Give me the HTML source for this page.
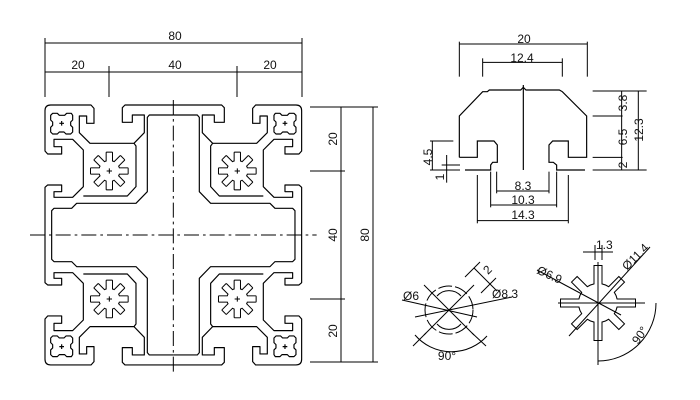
<!DOCTYPE html>
<html><head><meta charset="utf-8"><style>
html,body{margin:0;padding:0;background:#fff;}
svg{display:block;}
text{font-family:"Liberation Sans",sans-serif;font-size:12px;fill:#111;}
</style></head><body>
<svg width="700" height="400" viewBox="0 0 700 400" xmlns="http://www.w3.org/2000/svg">
<defs>
<g id="starShapes">
<circle cx="0" cy="0" r="30"/>
<rect x="-55" y="-8" width="110" height="16"/>
<rect x="-55" y="-8" width="110" height="16" transform="rotate(45)"/>
<rect x="-55" y="-8" width="110" height="16" transform="rotate(90)"/>
<rect x="-55" y="-8" width="110" height="16" transform="rotate(135)"/>
</g>
<g id="star2Shapes">
<circle cx="0" cy="0" r="19"/>
<rect x="-37" y="-3.5" width="74" height="7"/>
<rect x="-33" y="-3.5" width="66" height="7" transform="rotate(45)"/>
<rect x="-37" y="-3.5" width="74" height="7" transform="rotate(90)"/>
<rect x="-33" y="-3.5" width="66" height="7" transform="rotate(135)"/>
</g>
<g id="star">
<use href="#starShapes" stroke="#000" stroke-width="6" fill="#fff"/>
<use href="#starShapes" stroke="none" fill="#fff"/>
<path d="M-8,0H8M0,-8V8" stroke="#000" stroke-width="3" fill="none"/>
</g>
<g id="quad" fill="none" stroke="#000" stroke-width="3.5" stroke-linejoin="round">
<path d="M430,45 H285 L277,53 V97 H307 V75 H343 V128 L312,160 H180 L148,128 V78 H170 V100 H192 V55 L183,45 H62 Q45,45 45,62 V183 L53,192 H95 V170 H72 V148 H128 L160,180 V290 L128,322 H72 V305 H95 V285 H53 L45,292 V435"/>
<path d="M312,160 L318,168 V290 L292,318 H160"/>
<path d="M430,75 H358 L352,82 V305 L318,340 H140 L125,355 H72 L65,362 V435"/>
<path d="M68,70 H82 L88,76 H104 L110,70 H124 L128,76 V90 L122,96 V106 L128,112 V126 L122,132 H108 L102,126 H88 L82,132 H68 L62,126 V112 L68,106 V96 L62,90 V76 Z"/>
<path d="M88,100 H102 M95,93 V107"/>
<use href="#star" transform="translate(238,243)"/>
</g>
</defs>

<!-- main profile -->
<g transform="translate(30,90) scale(0.3333)">
<use href="#quad"/>
<use href="#quad" transform="translate(860,0) scale(-1,1)"/>
<use href="#quad" transform="translate(0,870) scale(1,-1)"/>
<use href="#quad" transform="translate(860,870) scale(-1,-1)"/>
<g stroke="#000" stroke-width="3" stroke-dasharray="45,12,8,12">
<line x1="0" y1="435" x2="860" y2="435"/>
<line x1="430" y1="30" x2="430" y2="850"/>
</g>
</g>

<!-- main dims -->
<g stroke="#000" stroke-width="1" fill="none">
<line x1="45" y1="38" x2="45" y2="97"/><line x1="302" y1="38" x2="302" y2="97"/>
<line x1="109" y1="66" x2="109" y2="97"/><line x1="237" y1="66" x2="237" y2="97"/>
<line x1="45" y1="43" x2="302" y2="43"/>
<line x1="45" y1="72" x2="302" y2="72"/>
<line x1="310" y1="107" x2="378" y2="107"/><line x1="310" y1="362" x2="378" y2="362"/>
<line x1="310" y1="171" x2="345" y2="171"/><line x1="310" y1="299" x2="345" y2="299"/>
<line x1="341" y1="107" x2="341" y2="362"/>
<line x1="373" y1="107" x2="373" y2="362"/>
</g>
<text x="175" y="40" text-anchor="middle">80</text>
<text x="78" y="69" text-anchor="middle">20</text>
<text x="175" y="69" text-anchor="middle">40</text>
<text x="270" y="69" text-anchor="middle">20</text>
<text transform="translate(337,139) rotate(-90)" text-anchor="middle">20</text>
<text transform="translate(337,235) rotate(-90)" text-anchor="middle">40</text>
<text transform="translate(337,331) rotate(-90)" text-anchor="middle">20</text>
<text transform="translate(369,235) rotate(-90)" text-anchor="middle">80</text>

<!-- T-slot detail -->
<g transform="translate(400,30) scale(0.3333)" fill="none" stroke="#000" stroke-width="3.5">
<path d="M178,382 V258 L248,185 H262 L268,180 H362 L370,172 L378,180 H478 L487,185 L560,258 V382 H505 V333 H458 L447,345 V397 H460 L470,405 V420 H555"/>
<path d="M178,382 H232 V333 H282 L292,345 V397 H278 L272,405 V420 H195"/>
<line x1="370" y1="165" x2="370" y2="420"/>
<g stroke-width="3">
<line x1="178" y1="35" x2="178" y2="140"/><line x1="562" y1="35" x2="562" y2="140"/>
<line x1="178" y1="42" x2="562" y2="42"/>
<line x1="248" y1="85" x2="248" y2="140"/><line x1="487" y1="85" x2="487" y2="140"/>
<line x1="248" y1="97" x2="487" y2="97"/>
<line x1="578" y1="183" x2="740" y2="183"/><line x1="578" y1="258" x2="668" y2="258"/>
<line x1="578" y1="382" x2="668" y2="382"/><line x1="578" y1="420" x2="740" y2="420"/>
<line x1="665" y1="183" x2="665" y2="420"/><line x1="715" y1="183" x2="715" y2="420"/>
<line x1="90" y1="333" x2="160" y2="333"/><line x1="90" y1="420" x2="180" y2="420"/>
<line x1="125" y1="405" x2="180" y2="405"/>
<line x1="97" y1="333" x2="97" y2="420"/>
<line x1="140" y1="375" x2="140" y2="458"/>
<line x1="232" y1="435" x2="232" y2="580"/><line x1="505" y1="435" x2="505" y2="580"/>
<line x1="272" y1="425" x2="272" y2="532"/><line x1="470" y1="425" x2="470" y2="532"/>
<line x1="290" y1="425" x2="290" y2="490"/><line x1="447" y1="425" x2="447" y2="490"/>
<line x1="290" y1="483" x2="447" y2="483"/>
<line x1="272" y1="525" x2="470" y2="525"/>
<line x1="232" y1="572" x2="505" y2="572"/>
</g>
</g>
<text x="524" y="43" text-anchor="middle">20</text>
<text x="522" y="62" text-anchor="middle">12.4</text>
<text transform="translate(627,103) rotate(-90)" text-anchor="middle">3.8</text>
<text transform="translate(627,137) rotate(-90)" text-anchor="middle">6.5</text>
<text transform="translate(627,165) rotate(-90)" text-anchor="middle">2</text>
<text transform="translate(643,130) rotate(-90)" text-anchor="middle">12.3</text>
<text transform="translate(432,157) rotate(-90)" text-anchor="middle">4.5</text>
<text transform="translate(444,177) rotate(-90)" text-anchor="middle">1</text>
<text x="523" y="190" text-anchor="middle">8.3</text>
<text x="523" y="204" text-anchor="middle">10.3</text>
<text x="523" y="219" text-anchor="middle">14.3</text>

<!-- bottom left circle detail -->
<g fill="none" stroke="#000" stroke-width="1">
<circle cx="449" cy="310" r="24" stroke-dasharray="14,3"/>
<path d="M437,296 A16,16 0 0 1 461,296 M437,324 A16,16 0 0 0 461,324"/>
<line x1="424" y1="285" x2="474" y2="335"/>
<line x1="474" y1="285" x2="424" y2="335"/>
<line x1="402" y1="300" x2="477" y2="317"/>
<line x1="512" y1="297" x2="415" y2="317"/>
<line x1="413" y1="346" x2="426" y2="333"/><line x1="486" y1="346" x2="472" y2="333"/>
<path d="M415,335 A48,48 0 0 0 487,336"/>
<line x1="474" y1="268" x2="497" y2="291"/>
<line x1="480" y1="262" x2="465" y2="277"/><line x1="496" y1="278" x2="481" y2="293"/>
</g>
<text x="403" y="300">Ø6</text>
<text x="492" y="298">Ø8.3</text>
<text transform="translate(488,275) rotate(-45)">2</text>
<text x="447" y="360" text-anchor="middle">90°</text>

<!-- bottom right star detail -->
<g transform="translate(598,303)">
<use href="#star2Shapes" stroke="#000" stroke-width="2" fill="#fff"/>
<use href="#star2Shapes" stroke="none" fill="#fff"/>
</g>
<g fill="none" stroke="#000" stroke-width="1">
<line x1="598" y1="262" x2="598" y2="365"/>
<line x1="558" y1="303" x2="645" y2="303"/>
<line x1="537" y1="270" x2="621" y2="315"/>
<line x1="569" y1="336" x2="650" y2="247"/>
<line x1="595" y1="245" x2="595" y2="260"/><line x1="602" y1="245" x2="602" y2="260"/>
<line x1="583" y1="252" x2="613" y2="252"/>
<path d="M656,303 A58,58 0 0 1 598,361"/>
</g>
<text x="596" y="249">1.3</text>
<text transform="translate(627,271) rotate(-45)">Ø11.4</text>
<text transform="translate(536,273) rotate(25)">Ø6.9</text>
<text transform="translate(638,345) rotate(-55)">90°</text>
</svg>
</body></html>
